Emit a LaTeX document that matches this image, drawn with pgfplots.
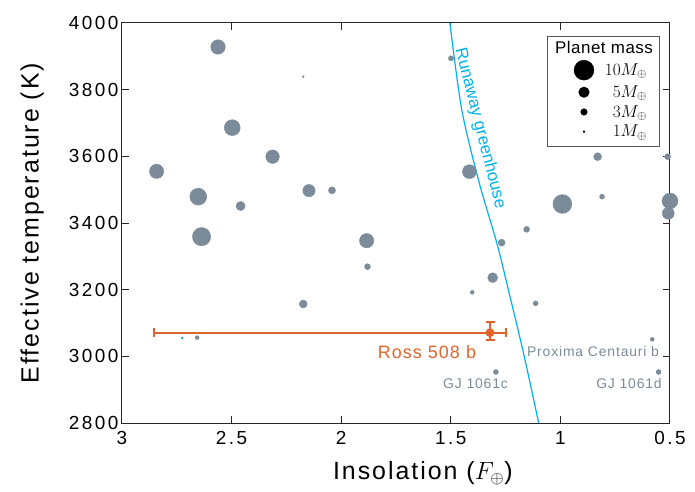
\documentclass[border=0pt]{standalone}
\usepackage{pgfplots}
\pgfplotsset{compat=1.18}
\usepackage{pgfplotstable}
\usepackage{fontspec}
\setmainfont{Liberation Sans}[LetterSpace=6]
\definecolor{planet}{RGB}{123,139,154}
\definecolor{rossc}{RGB}{226,98,44}
\definecolor{rg}{RGB}{0,178,235}

\pgfplotstableread{
x y r
2.562 3928 7.3
2.173 3839 1.0
2.497 3686 8.0
2.313 3599 6.8
2.842 3555 7.2
2.652 3479 8.5
2.459 3451 4.6
2.147 3497 6.2
2.042 3498 3.6
2.637 3359 9.2
1.884 3347 7.2
1.880 3269 3.0
2.173 3157 4.0
2.657 3056 2.0
1.499 3894 2.6
1.415 3554 7.0
0.830 3599 4.0
0.511 3599 3.0
0.991 3457 9.5
0.810 3479 2.5
0.500 3466 8.0
0.508 3429 6.0
1.268 3341 3.5
1.154 3381 3.0
1.309 3236 5.0
1.402 3192 2.0
1.113 3159 2.5
0.581 3051 2.0
1.294 2953 2.5
0.552 2953 2.5
}\planets

\pgfplotstableread{
x y
1.504 4000
1.450 3740
1.370 3520
1.290 3340
1.230 3180
1.165 3000
1.099 2800
}\runaway

\begin{document}
\begin{tikzpicture}
\useasboundingbox (-122bp,-69bp) rectangle (573bp,423bp);
\begin{axis}[
  at={(0,0)}, anchor=south west,
  scale only axis,
  width=548bp, height=400bp,
  x dir=reverse,
  xmin=0.5, xmax=3, ymin=2800, ymax=4000,
  xtick={0.5,1,1.5,2,2.5,3},
  xticklabels={0.5,1,1.5,2,2.5,3},
  ytick={2800,3000,...,4000},
  /pgf/number format/1000 sep={},
  /pgf/number format/assume math mode=true,
  tick align=inside,
  major tick length=7bp,
  axis line style={line width=1pt, black!85},
  every tick/.style={line width=1pt, black!85},
  tick label style={font=\fontsize{19}{21}\selectfont\addfontfeature{LetterSpace=13}},
  xticklabel style={yshift=-5bp},
  label style={font=\fontsize{25}{28}\selectfont\addfontfeature{LetterSpace=8}},
  xlabel={Insolation ($F_\oplus$)},
  ylabel={Effective temperature (K)},
  xlabel style={at={(axis description cs:0.549,-0.125)}, anchor=center},
  ylabel style={at={(axis description cs:-0.164,0.5)}, anchor=center},
  clip=false,
  legend style={at={(axis description cs:0.9635,0.9075)}, anchor=north east,
    draw=none, fill=none, inner sep=0pt,
    nodes={inner ysep=1pt, inner xsep=3pt},
    /tikz/every odd column/.append style={column sep=8pt},
    font=\fontsize{18}{19}\selectfont, row sep=4.5pt},
  legend cell align=right,
]
\addplot[rg, line width=1.2pt, smooth, forget plot] table[x=x,y=y]{\runaway};
\addplot[scatter, only marks, mark=*, forget plot,
  scatter/use mapped color={draw=planet, fill=planet},
  visualization depends on={\thisrow{r} \as \rr},
  scatter/@pre marker code/.append style={/tikz/mark size=\rr}]
  table[x=x,y=y]{\planets};
\addplot[only marks, mark=*, mark size=1, rg, forget plot] coordinates {(2.725,3055)};
\addplot[rossc, mark=*, mark size=3.5, line width=1.8pt, forget plot,
  error bars/.cd, x dir=both, x explicit, y dir=both, y explicit,
  error bar style={line width=1.8pt, rossc},
  error mark options={rotate=90, line width=1.8pt, mark size=4.5, rossc}]
  coordinates {(1.321,3071) += (1.533,33) -= (0.073,23)};

\node[rossc, font=\fontsize{18}{20}\selectfont] at (axis cs:1.609,3013) {Ross 508 b};
\node[planet, font=\fontsize{14}{16}\selectfont] at (axis cs:0.851,3014) {Proxima Centauri b};
\node[planet, font=\fontsize{14}{16}\selectfont] at (axis cs:1.387,2919) {GJ 1061c};
\node[planet, font=\fontsize{14}{16}\selectfont] at (axis cs:0.687,2919) {GJ 1061d};
\node[rg, font=\fontsize{17}{19}\selectfont\addfontfeature{LetterSpace=0}, rotate=-75.7] at (axis cs:1.367,3684) {Runaway greenhouse};

\draw[black!65, line width=0.8pt, fill=white] (axis description cs:0.7755,0.9675) rectangle (axis description cs:0.980,0.6925);
\node[font=\fontsize{17}{19}\selectfont\addfontfeature{LetterSpace=3}] at (axis description cs:0.8796,0.94) {Planet mass};

\addlegendimage{only marks, mark=*, mark size=10, black}
\addlegendentry{$10M_\oplus$}
\addlegendimage{only marks, mark=*, mark size=5.3, black}
\addlegendentry{$5M_\oplus$}
\addlegendimage{only marks, mark=*, mark size=3.3, black}
\addlegendentry{$3M_\oplus$}
\addlegendimage{only marks, mark=*, mark size=1, black}
\addlegendentry{$1M_\oplus$}
\end{axis}
\end{tikzpicture}
\end{document}
